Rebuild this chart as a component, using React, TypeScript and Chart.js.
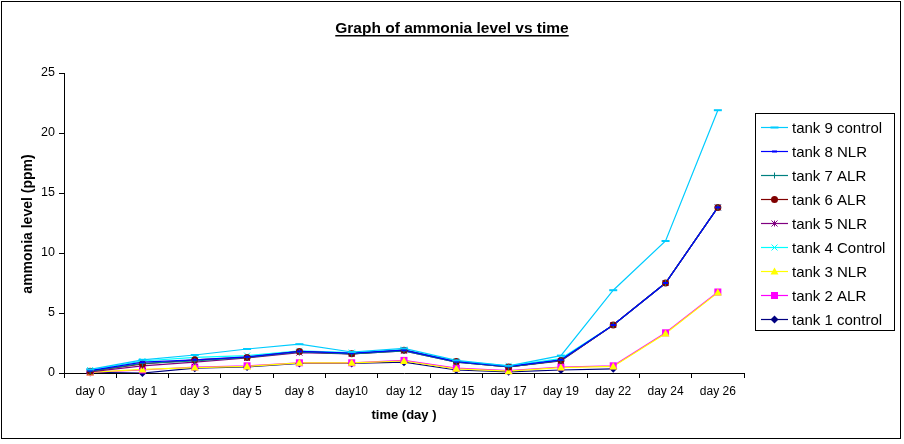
import React, { useEffect, useRef } from "react";
import { Chart, registerables } from "chart.js";

Chart.register(...registerables);

const days = ["day 0", "day 1", "day 3", "day 5", "day 8", "day10", "day 12", "day 15", "day 17", "day 19", "day 22", "day 24", "day 26"];

const tank9 = [0.3, 1.1, 1.5, 2.0, 2.4, 1.75, 2.05, 1.05, 0.6, 1.45, 6.9, 11.0, 21.9];
const tank8 = [0.2, 0.9, 1.1, 1.35, 1.8, 1.65, 1.9, 0.95, 0.55, 1.1, 4.0, 7.5, 13.8];
const tank7 = [0.15, 0.8, 1.0, 1.3, 1.75, 1.6, 1.85, 0.9, 0.5, 1.05, 4.0, 7.5, 13.8];
const tank6 = [0.15, 0.75, 1.1, 1.3, 1.8, 1.6, 1.9, 0.95, 0.5, 1.05, 4.0, 7.5, 13.8];
const tank5 = [0.1, 0.6, 0.9, 1.25, 1.7, 1.6, 1.85, 0.9, 0.5, 1.0, 4.0, 7.5, 13.8];
const tank4 = [0.25, 1.0, 1.3, 1.45, 1.85, 1.7, 1.95, 1.0, 0.6, 1.2, 4.0, 7.5, 13.8];
const tank3 = [0.05, 0.3, 0.45, 0.55, 0.85, 0.85, 1.0, 0.35, 0.15, 0.45, 0.55, 3.3, 6.7];
const tank2 = [0.05, 0.25, 0.5, 0.6, 0.85, 0.85, 1.05, 0.4, 0.2, 0.5, 0.6, 3.35, 6.75];
const tank1 = [0.05, 0.0, 0.4, 0.5, 0.8, 0.8, 0.9, 0.25, 0.1, 0.25, 0.35, null, null];

const seriesNames = ["tank 9 control", "tank 8 NLR", "tank 7 ALR", "tank 6 ALR", "tank 5 NLR", "tank 4 Control", "tank 3 NLR", "tank 2 ALR", "tank 1 control"];
const seriesData = [tank9, tank8, tank7, tank6, tank5, tank4, tank3, tank2, tank1];
const seriesColors = ["#00CCFF", "#0000FF", "#008080", "#800000", "#800080", "#00FFFF", "#FFFF00", "#FF00FF", "#000080"];
const seriesMarkers = ["dashLong", "dash", "plus", "circle", "star", "x", "triangle", "square", "diamond"];

const yTicks = [0, 5, 10, 15, 20, 25];

const titleText = "Graph of ammonia level vs time";
const yTitle = "ammonia level (ppm)";
const xTitle = "time (day )";

const FONT = "'Liberation Sans', Arial, sans-serif";

function drawMarker(ctx: CanvasRenderingContext2D, kind: string, x: number, y: number, color: string) {
  ctx.save();
  ctx.strokeStyle = color;
  ctx.fillStyle = color;
  ctx.lineWidth = 1;
  ctx.beginPath();
  switch (kind) {
    case "dashLong":
      ctx.fillRect(x - 4, y - 1, 8, 2);
      break;
    case "dash":
      ctx.fillRect(x - 2.5, y - 1, 5, 2);
      break;
    case "plus":
      ctx.moveTo(x - 3, y); ctx.lineTo(x + 3, y);
      ctx.moveTo(x, y - 3); ctx.lineTo(x, y + 3);
      ctx.stroke();
      break;
    case "circle":
      ctx.arc(x, y, 3.5, 0, Math.PI * 2);
      ctx.fill();
      break;
    case "star":
      ctx.moveTo(x - 3, y - 3); ctx.lineTo(x + 3, y + 3);
      ctx.moveTo(x + 3, y - 3); ctx.lineTo(x - 3, y + 3);
      ctx.moveTo(x, y - 3); ctx.lineTo(x, y + 3);
      ctx.stroke();
      break;
    case "x":
      ctx.moveTo(x - 3, y - 3); ctx.lineTo(x + 3, y + 3);
      ctx.moveTo(x + 3, y - 3); ctx.lineTo(x - 3, y + 3);
      ctx.stroke();
      break;
    case "triangle":
      ctx.moveTo(x, y - 4); ctx.lineTo(x + 4, y + 3); ctx.lineTo(x - 4, y + 3); ctx.closePath();
      ctx.fill();
      break;
    case "square":
      ctx.fillRect(x - 3.5, y - 3.5, 7, 7);
      break;
    case "diamond":
      ctx.moveTo(x, y - 4); ctx.lineTo(x + 4, y); ctx.lineTo(x, y + 4); ctx.lineTo(x - 4, y); ctx.closePath();
      ctx.fill();
      break;
  }
  ctx.restore();
}

const chromePlugin = {
  id: "chrome",
  beforeDraw(chart: any) {
    const ctx = chart.ctx as CanvasRenderingContext2D;
    ctx.save();
    ctx.fillStyle = "#fff";
    ctx.fillRect(0, 0, chart.width, chart.height);
    ctx.restore();
  },
  afterDraw(chart: any) {
    const ctx = chart.ctx as CanvasRenderingContext2D;
    const area = chart.chartArea;
    ctx.save();
    // outer border
    ctx.strokeStyle = "#000";
    ctx.lineWidth = 1;
    ctx.strokeRect(1.5, 1.5, 899, 437);

    // title
    ctx.fillStyle = "#000";
    ctx.font = `bold 15.5px ${FONT}`;
    ctx.textAlign = "center";
    ctx.textBaseline = "alphabetic";
    const tx = 452;
    ctx.fillText(titleText, tx, 33);
    const tw = ctx.measureText(titleText).width;
    ctx.fillRect(tx - tw / 2, 35, tw, 1.5);

    // y title
    ctx.font = `bold 14px ${FONT}`;
    ctx.save();
    ctx.translate(28, 224);
    ctx.rotate(-Math.PI / 2);
    ctx.textBaseline = "middle";
    ctx.fillText(yTitle, 0, 0);
    ctx.restore();

    // x title
    ctx.font = `bold 13px ${FONT}`;
    ctx.textBaseline = "middle";
    ctx.fillText(xTitle, (area.left + area.right) / 2, 415);

    // legend
    const lx = 755.5, ly = 113.5, lw = 139, lh = 217;
    ctx.strokeRect(lx, ly, lw, lh);
    ctx.font = `15px ${FONT}`;
    ctx.textAlign = "left";
    ctx.textBaseline = "middle";
    for (let i = 0; i < seriesNames.length; i++) {
      const ry = 127.5 + i * 24;
      const c = seriesColors[i];
      ctx.strokeStyle = c;
      ctx.lineWidth = 1.2;
      ctx.beginPath();
      ctx.moveTo(761, ry);
      ctx.lineTo(788, ry);
      ctx.stroke();
      drawMarker(ctx, seriesMarkers[i], 774.5, ry, c);
      ctx.fillStyle = "#000";
      ctx.fillText(seriesNames[i], 792, ry + 1);
    }
    ctx.restore();
  },
};

const markerPlugin = {
  id: "markers",
  afterDatasetsDraw(chart: any) {
    const ctx = chart.ctx as CanvasRenderingContext2D;
    ctx.save();
    for (let d = seriesNames.length - 1; d >= 0; d--) {
      const meta = chart.getDatasetMeta(d);
      meta.data.forEach((pt: any, i: number) => {
        const v = seriesData[d][i];
        if (v === null || v === undefined) return;
        drawMarker(ctx, seriesMarkers[d], pt.x, pt.y, seriesColors[d]);
      });
    }
    ctx.restore();
  },
};

export default function App() {
  const ref = useRef<HTMLCanvasElement | null>(null);
  useEffect(() => {
    document.body.style.margin = "0";
    const canvas = ref.current;
    if (!canvas) return;
    const chart = new Chart(canvas, {
      type: "line",
      data: {
        labels: days,
        datasets: seriesNames.map((name, i) => ({
          label: name,
          data: seriesData[i],
          borderColor: seriesColors[i],
          backgroundColor: seriesColors[i],
          borderWidth: 1.2,
          pointRadius: 0,
          pointHoverRadius: 0,
          tension: 0,
          spanGaps: false,
          fill: false,
        })),
      },
      options: {
        responsive: false,
        animation: false,
        devicePixelRatio: 1,
        events: [],
        layout: { padding: { top: 73, right: 160, left: 0, bottom: 0 } },
        plugins: {
          legend: { display: false },
          title: { display: false },
          tooltip: { enabled: false },
        },
        scales: {
          x: {
            type: "category",
            offset: true,
            grid: { display: true, drawOnChartArea: false, drawTicks: true, tickLength: 5, color: "#000", offset: true },
            border: { display: true, color: "#000", width: 1 },
            ticks: { color: "#000", font: { family: FONT, size: 12 }, padding: 6, maxRotation: 0, autoSkip: false },
            afterFit: (s: any) => { s.height = 71; },
          },
          y: {
            min: 0,
            max: 25,
            afterBuildTicks: (s: any) => { s.ticks = yTicks.map((v) => ({ value: v })); },
            grid: { display: true, drawOnChartArea: false, drawTicks: true, tickLength: 5, color: "#000" },
            border: { display: true, color: "#000", width: 1 },
            ticks: { color: "#000", font: { family: FONT, size: 12.5 }, padding: 4 },
            afterFit: (s: any) => { s.width = 64; },
          },
        },
      },
      plugins: [chromePlugin, markerPlugin],
    } as any);
    return () => chart.destroy();
  }, []);
  return (
    <div style={{ width: 904, height: 444 }}>
      <canvas ref={ref} width={904} height={444} style={{ display: "block", width: 904, height: 444 }} />
    </div>
  );
}
